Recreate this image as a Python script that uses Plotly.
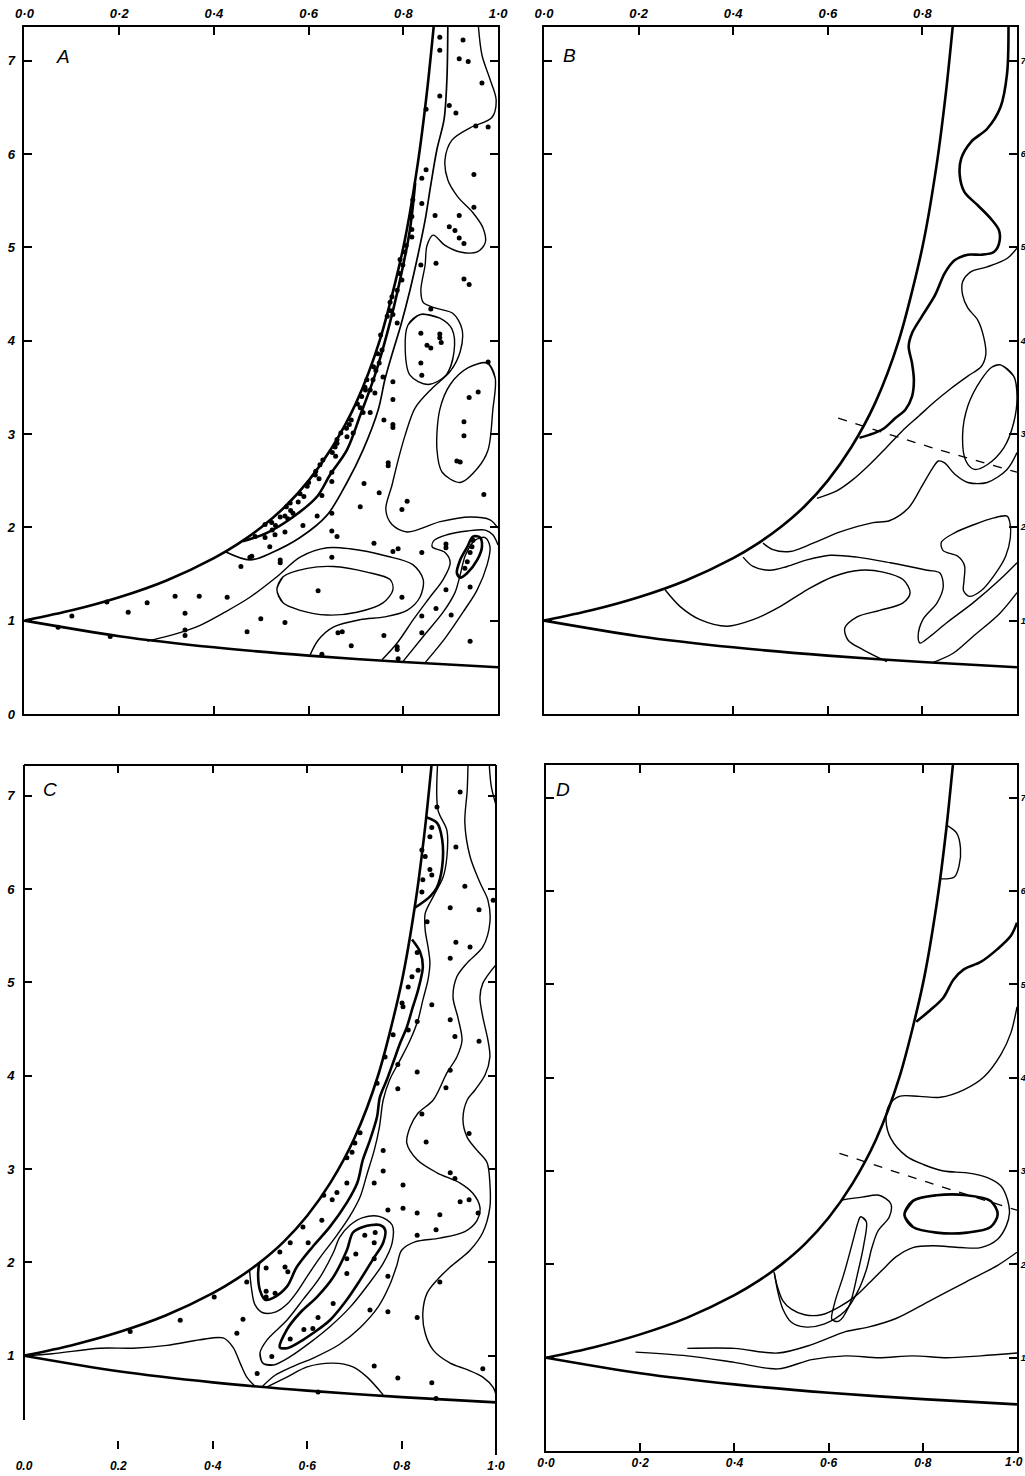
import plotly.graph_objects as go

# ---------------- shared region boundaries ----------------
upper_x = [0.0, 0.1, 0.2, 0.3, 0.4, 0.45, 0.5, 0.55, 0.6, 0.65, 0.7, 0.75, 0.8, 0.83, 0.85, 0.865]
upper_y = [1.0, 1.11, 1.25, 1.43, 1.67, 1.82, 2.0, 2.22, 2.5, 2.86, 3.33, 4.0, 5.0, 5.88, 6.67, 7.41]
lower_x = [0.0, 0.2, 0.4, 0.6, 0.8, 1.0]
lower_y = [1.0, 0.833, 0.714, 0.625, 0.556, 0.5]

# ---------------- axis labels ----------------
x_tick_vals = [0.0, 0.2, 0.4, 0.6, 0.8, 1.0]
x_top_labels = ["0·0", "0·2", "0·4", "0·6", "0·8", "1·0"]
x_c_labels = ["0.0", "0.2", "0·4", "0·6", "0·8", "1·0"]
y_tick_vals = [0, 1, 2, 3, 4, 5, 6, 7]
y_labels = ["0", "1", "2", "3", "4", "5", "6", "7"]
panel_names = ["A", "B", "C", "D"]

# ---------------- panel A ----------------
a_band_inner = [(0.825, 5.69), (0.814, 5.19), (0.793, 4.65), (0.768, 4.12), (0.740, 3.63),
                (0.709, 3.20), (0.681, 2.83), (0.645, 2.56), (0.618, 2.33), (0.567, 2.11),
                (0.512, 1.94), (0.461, 1.85)]
a_band_outer = [(0.894, 7.40), (0.892, 6.80), (0.886, 6.37), (0.871, 6.05), (0.858, 5.67),
                (0.846, 5.29), (0.831, 4.92), (0.814, 4.54), (0.795, 4.17), (0.776, 3.85),
                (0.761, 3.58), (0.747, 3.26), (0.715, 2.83), (0.681, 2.48), (0.639, 2.13),
                (0.582, 1.89), (0.523, 1.73), (0.476, 1.65), (0.423, 1.74)]
a_wave = [(0.958, 7.40), (0.966, 7.06), (0.983, 6.80), (0.996, 6.58), (0.987, 6.39),
          (0.941, 6.28), (0.903, 6.15), (0.888, 5.94), (0.894, 5.72), (0.915, 5.54),
          (0.947, 5.37), (0.968, 5.21), (0.973, 5.05), (0.956, 4.95), (0.920, 4.95),
          (0.888, 5.02), (0.863, 5.13), (0.850, 5.02), (0.846, 4.81), (0.837, 4.54),
          (0.842, 4.41), (0.867, 4.35), (0.905, 4.29), (0.924, 4.12), (0.920, 3.88),
          (0.899, 3.67), (0.861, 3.49), (0.825, 3.28), (0.804, 2.99), (0.789, 2.72),
          (0.776, 2.45), (0.763, 2.19), (0.776, 2.03), (0.808, 1.95), (0.878, 2.06),
          (0.941, 2.11), (0.983, 2.08), (1.0, 1.99)]
a_oval_left = [(0.836, 4.28), (0.877, 4.24), (0.903, 4.12), (0.907, 3.88), (0.890, 3.63),
               (0.852, 3.53), (0.814, 3.63), (0.804, 3.90), (0.810, 4.17)]
a_oval_right = [(0.977, 3.76), (0.994, 3.60), (0.989, 3.26), (0.979, 2.83), (0.958, 2.64),
                (0.920, 2.48), (0.882, 2.59), (0.871, 2.83), (0.877, 3.26), (0.899, 3.53),
                (0.937, 3.71)]
a_mid = [(0.259, 0.78), (0.314, 0.85), (0.371, 0.95), (0.423, 1.09), (0.476, 1.25),
         (0.533, 1.47), (0.582, 1.68), (0.639, 1.78), (0.687, 1.77), (0.766, 1.69),
         (0.820, 1.60), (0.842, 1.44), (0.835, 1.25), (0.808, 1.11), (0.761, 1.04),
         (0.709, 1.01), (0.652, 0.93), (0.620, 0.79), (0.603, 0.63)]
a_centre = [(0.533, 1.33), (0.546, 1.47), (0.597, 1.56), (0.652, 1.58), (0.723, 1.52),
            (0.772, 1.44), (0.778, 1.33), (0.757, 1.19), (0.702, 1.09), (0.639, 1.06),
            (0.582, 1.11), (0.546, 1.19)]
a_hook = [(0.755, 0.58), (0.787, 0.76), (0.821, 1.01), (0.856, 1.25), (0.884, 1.44),
          (0.899, 1.62), (0.888, 1.73), (0.861, 1.79), (0.865, 1.86), (0.892, 1.92),
          (0.935, 1.96), (0.973, 1.97), (0.989, 1.92), (1.0, 1.81)]
a_loop = [(0.799, 0.56), (0.842, 0.83), (0.884, 1.09), (0.909, 1.30), (0.920, 1.49),
          (0.931, 1.70), (0.951, 1.86), (0.973, 1.89), (0.983, 1.79), (0.977, 1.60),
          (0.956, 1.33), (0.926, 1.09), (0.888, 0.81), (0.846, 0.55)]
a_peak = [(0.913, 1.51), (0.920, 1.65), (0.935, 1.79), (0.947, 1.90), (0.962, 1.89),
          (0.966, 1.79), (0.956, 1.65), (0.935, 1.51), (0.920, 1.46)]
a_dots = [
    (0.071, 0.93), (0.100, 1.05), (0.174, 1.20), (0.219, 1.09), (0.259, 1.19), (0.318, 1.26),
    (0.369, 1.26), (0.428, 1.25), (0.339, 1.08), (0.339, 0.90), (0.339, 0.84), (0.181, 0.83),
    (0.470, 0.88), (0.499, 1.02), (0.550, 0.98), (0.620, 1.32), (0.662, 0.87), (0.671, 0.88),
    (0.690, 0.73), (0.628, 0.64), (0.759, 0.84), (0.787, 0.72), (0.787, 0.69), (0.789, 0.59),
    (0.797, 1.25), (0.839, 1.05), (0.839, 0.87), (0.869, 1.13), (0.890, 1.33), (0.901, 1.06),
    (0.941, 1.36), (0.941, 0.78),
    (0.768, 2.69), (0.768, 2.66), (0.717, 2.47), (0.749, 2.37), (0.709, 2.22), (0.649, 2.49),
    (0.628, 2.34), (0.649, 2.15), (0.618, 2.12), (0.588, 2.02), (0.649, 1.96), (0.660, 1.90),
    (0.738, 1.83), (0.778, 1.74), (0.789, 1.77), (0.839, 1.73), (0.808, 2.28), (0.797, 2.19),
    (0.913, 2.71), (0.920, 2.70), (0.970, 2.35), (0.890, 1.82), (0.890, 1.78), (0.947, 1.86),
    (0.945, 1.79), (0.941, 1.73), (0.935, 1.63), (0.930, 1.56), (0.649, 1.68), (0.540, 1.65),
    (0.540, 1.62), (0.480, 1.69), (0.457, 1.58),
    (0.630, 2.72), (0.624, 2.67), (0.600, 2.48), (0.597, 2.44), (0.561, 2.26), (0.578, 2.27),
    (0.540, 2.11), (0.550, 2.12), (0.556, 2.09), (0.508, 2.03), (0.523, 1.97), (0.487, 1.90),
    (0.529, 1.92), (0.508, 1.89), (0.550, 1.95), (0.518, 1.79), (0.476, 1.68), (0.649, 2.59),
    (0.614, 2.56), (0.567, 2.15),
    (0.522, 2.05), (0.530, 2.02), (0.553, 2.22), (0.562, 2.18), (0.582, 2.36), (0.590, 2.33),
    (0.615, 2.60), (0.622, 2.52), (0.650, 2.80), (0.657, 2.76), (0.680, 3.06), (0.686, 3.10),
    (0.703, 3.32), (0.709, 3.28), (0.737, 3.72), (0.742, 3.68), (0.746, 3.86), (0.773, 4.32),
    (0.778, 4.28), (0.792, 4.72), (0.803, 4.95), (0.806, 5.02),
    (0.848, 5.83), (0.839, 5.74), (0.839, 5.47), (0.867, 5.34), (0.918, 5.34), (0.949, 5.78),
    (0.949, 5.43), (0.897, 5.22), (0.909, 5.18), (0.918, 5.10), (0.928, 5.04), (0.869, 4.83),
    (0.837, 4.81), (0.928, 4.66), (0.939, 4.60), (0.858, 4.34), (0.837, 4.08), (0.877, 4.07),
    (0.877, 4.03), (0.880, 3.98), (0.850, 3.95), (0.858, 3.92), (0.837, 3.76), (0.839, 3.63),
    (0.979, 3.77), (0.958, 3.45), (0.939, 3.39), (0.928, 3.13), (0.928, 2.98), (0.778, 3.56),
    (0.778, 3.37), (0.759, 3.15), (0.778, 3.10), (0.778, 3.07),
    (0.820, 5.51), (0.818, 5.33), (0.818, 5.19), (0.818, 5.11), (0.793, 4.87), (0.799, 4.81),
    (0.797, 4.65), (0.787, 4.54), (0.776, 4.47), (0.772, 4.41), (0.766, 4.26), (0.787, 4.19),
    (0.752, 4.06), (0.749, 3.76), (0.757, 3.61), (0.736, 3.58), (0.723, 3.58), (0.719, 3.50),
    (0.730, 3.47), (0.712, 3.40), (0.740, 3.44), (0.720, 3.47), (0.715, 3.23), (0.730, 3.23),
    (0.690, 3.15), (0.694, 3.01), (0.681, 2.97), (0.668, 3.01), (0.660, 2.94), (0.660, 2.90),
    (0.656, 2.86), (0.755, 3.90),
    (0.877, 7.25), (0.877, 7.11), (0.926, 7.22), (0.918, 7.02), (0.937, 6.99), (0.966, 6.76),
    (0.877, 6.62), (0.897, 6.52), (0.848, 6.48), (0.911, 6.44), (0.953, 6.30), (0.979, 6.29),
]

# ---------------- panel B ----------------
b_thick = [(0.982, 7.40), (0.979, 6.86), (0.965, 6.50), (0.937, 6.27), (0.903, 6.13),
           (0.882, 5.95), (0.879, 5.77), (0.889, 5.59), (0.917, 5.45), (0.944, 5.31),
           (0.962, 5.18), (0.962, 5.04), (0.951, 4.95), (0.924, 4.92), (0.896, 4.92),
           (0.868, 4.86), (0.847, 4.72), (0.827, 4.49), (0.799, 4.26), (0.778, 4.08),
           (0.771, 3.94), (0.778, 3.76), (0.782, 3.58), (0.778, 3.40), (0.764, 3.26),
           (0.743, 3.17), (0.716, 3.05), (0.688, 2.99), (0.667, 2.96)]
b_upper = [(1.0, 4.99), (0.979, 4.88), (0.937, 4.79), (0.903, 4.74), (0.885, 4.63),
           (0.885, 4.49), (0.896, 4.35), (0.917, 4.22), (0.930, 4.03), (0.934, 3.85),
           (0.924, 3.72), (0.896, 3.62), (0.861, 3.49), (0.827, 3.35), (0.792, 3.19),
           (0.757, 3.03), (0.723, 2.85), (0.688, 2.67), (0.653, 2.51), (0.619, 2.39),
           (0.577, 2.31)]
b_oval = [(0.965, 3.74), (0.993, 3.62), (1.0, 3.40), (0.993, 3.12), (0.972, 2.85),
          (0.937, 2.67), (0.910, 2.62), (0.892, 2.71), (0.885, 2.99), (0.896, 3.30),
          (0.924, 3.58), (0.948, 3.72)]
b_ridge = [(1.0, 2.80), (0.979, 2.62), (0.937, 2.48), (0.896, 2.48), (0.868, 2.57),
           (0.847, 2.69), (0.834, 2.71), (0.820, 2.62), (0.799, 2.44), (0.771, 2.21),
           (0.730, 2.07), (0.696, 2.05), (0.626, 1.95), (0.569, 1.83), (0.520, 1.74),
           (0.484, 1.76), (0.463, 1.83)]
b_blob = [(0.979, 2.12), (0.951, 2.10), (0.910, 2.03), (0.868, 1.94), (0.840, 1.84),
          (0.844, 1.75), (0.875, 1.69), (0.889, 1.59), (0.888, 1.43), (0.887, 1.32),
          (0.899, 1.26), (0.924, 1.32), (0.951, 1.48), (0.976, 1.69), (0.986, 1.89),
          (0.985, 2.05)]
b_valley = [(1.0, 1.62), (0.964, 1.44), (0.907, 1.19), (0.852, 0.98), (0.816, 0.83),
            (0.795, 0.76), (0.791, 0.83), (0.801, 1.01), (0.831, 1.19), (0.844, 1.36),
            (0.837, 1.51), (0.810, 1.54), (0.732, 1.62), (0.662, 1.68), (0.605, 1.70),
            (0.556, 1.65), (0.514, 1.58), (0.478, 1.54), (0.442, 1.58), (0.421, 1.68)]
b_low = [(0.256, 1.33), (0.288, 1.15), (0.330, 1.01), (0.387, 0.94), (0.442, 1.01),
         (0.499, 1.15), (0.556, 1.33), (0.611, 1.47), (0.668, 1.54), (0.717, 1.52),
         (0.759, 1.44), (0.774, 1.30), (0.759, 1.19), (0.710, 1.11), (0.662, 1.04),
         (0.636, 0.92), (0.643, 0.79), (0.674, 0.69), (0.725, 0.56)]
b_edge = [(1.0, 1.30), (0.964, 1.08), (0.907, 0.83), (0.865, 0.65), (0.822, 0.55)]
b_dash = [(0.622, 3.17), (0.816, 2.86), (1.0, 2.59)]

# ---------------- panel C ----------------
c_cap = [(0.852, 6.77), (0.875, 6.71), (0.886, 6.53), (0.886, 6.24), (0.875, 6.02),
         (0.860, 5.92), (0.828, 5.80)]
c_band = [(0.822, 5.46), (0.839, 5.33), (0.845, 5.17), (0.835, 4.92), (0.824, 4.74),
          (0.811, 4.52), (0.797, 4.35), (0.782, 4.14), (0.769, 3.96), (0.754, 3.77),
          (0.748, 3.56), (0.733, 3.31), (0.718, 3.10), (0.706, 2.85), (0.684, 2.64),
          (0.648, 2.38), (0.612, 2.17), (0.578, 1.95), (0.557, 1.74), (0.528, 1.62),
          (0.511, 1.60), (0.500, 1.70), (0.496, 1.86), (0.498, 1.99)]
c_inner = [(0.877, 7.40), (0.877, 6.85), (0.896, 6.63), (0.896, 6.35), (0.888, 6.13),
           (0.867, 5.92), (0.850, 5.74), (0.850, 5.56), (0.856, 5.38), (0.860, 5.21),
           (0.856, 5.03), (0.845, 4.81), (0.835, 4.60), (0.818, 4.38), (0.797, 4.17),
           (0.775, 3.96), (0.761, 3.74), (0.753, 3.45), (0.742, 3.20), (0.727, 2.95),
           (0.712, 2.70), (0.691, 2.50), (0.660, 2.27), (0.627, 2.05), (0.600, 1.85),
           (0.578, 1.68), (0.557, 1.55), (0.534, 1.47), (0.506, 1.46), (0.489, 1.55),
           (0.482, 1.72), (0.478, 1.91)]
c_ridge = [(0.542, 1.09), (0.557, 1.28), (0.585, 1.46), (0.621, 1.63), (0.655, 1.84),
           (0.684, 2.13), (0.697, 2.32), (0.718, 2.38), (0.754, 2.40), (0.765, 2.35),
           (0.761, 2.21), (0.739, 2.03), (0.712, 1.81), (0.684, 1.60), (0.648, 1.38),
           (0.612, 1.24), (0.585, 1.15), (0.557, 1.08)]
c_ring = [(0.506, 0.92), (0.500, 1.03), (0.515, 1.17), (0.557, 1.38), (0.591, 1.60),
          (0.627, 1.84), (0.655, 2.10), (0.669, 2.27), (0.691, 2.40), (0.718, 2.48),
          (0.754, 2.49), (0.780, 2.40), (0.780, 2.21), (0.761, 1.99), (0.729, 1.76),
          (0.691, 1.52), (0.648, 1.31), (0.606, 1.14), (0.564, 0.99), (0.528, 0.90)]
c_wave = [(0.941, 7.40), (0.939, 7.06), (0.934, 6.71), (0.945, 6.35), (0.966, 6.07),
          (0.983, 5.88), (0.987, 5.64), (0.972, 5.38), (0.939, 5.21), (0.917, 5.06),
          (0.909, 4.84), (0.919, 4.63), (0.928, 4.38), (0.917, 4.20), (0.896, 4.03),
          (0.867, 3.74), (0.835, 3.60), (0.818, 3.45), (0.811, 3.28), (0.833, 3.10),
          (0.875, 2.96), (0.924, 2.85), (0.951, 2.74), (0.966, 2.59), (0.960, 2.45),
          (0.934, 2.33), (0.881, 2.26), (0.828, 2.22), (0.800, 2.13), (0.790, 1.97),
          (0.775, 1.76), (0.750, 1.52), (0.712, 1.30), (0.668, 1.12), (0.615, 0.98),
          (0.568, 0.88), (0.532, 0.79), (0.505, 0.67)]
c_left = [(0.49, 0.67), (0.472, 0.77), (0.458, 0.92), (0.443, 1.09), (0.422, 1.19),
          (0.373, 1.17), (0.303, 1.11), (0.231, 1.08), (0.161, 1.08), (0.06, 1.02), (0.0, 1.0)]
c_dome = [(0.513, 0.66), (0.557, 0.77), (0.600, 0.88), (0.655, 0.92), (0.697, 0.88),
          (0.727, 0.77), (0.761, 0.58)]
c_outer_top = [(0.985, 7.40), (0.990, 7.10), (1.0, 6.90)]
c_outer = [(1.0, 5.19), (0.972, 4.99), (0.966, 4.84), (0.972, 4.63), (0.983, 4.38),
           (0.987, 4.20), (0.977, 4.01), (0.956, 3.85), (0.939, 3.74), (0.930, 3.53),
           (0.939, 3.34), (0.960, 3.20), (0.981, 3.07), (0.987, 2.85), (0.987, 2.59),
           (0.972, 2.32), (0.945, 2.13), (0.903, 1.95), (0.875, 1.81), (0.854, 1.67),
           (0.845, 1.46), (0.850, 1.24), (0.867, 1.06), (0.903, 0.92), (0.939, 0.85),
           (0.972, 0.77), (0.994, 0.66), (1.0, 0.58)]
c_dots = [
    (0.924, 7.04), (0.875, 6.88), (0.864, 6.66), (0.860, 6.56), (0.843, 6.42), (0.850, 6.35),
    (0.915, 6.45), (0.864, 6.15), (0.860, 6.21), (0.845, 6.10), (0.843, 5.97), (0.934, 6.03),
    (0.994, 5.88), (0.903, 5.80), (0.964, 5.78), (0.854, 5.65), (0.915, 5.43), (0.945, 5.38),
    (0.903, 5.26), (0.833, 5.32), (0.835, 5.13), (0.822, 5.06), (0.814, 4.95), (0.864, 4.76),
    (0.801, 4.78), (0.803, 4.74), (0.903, 4.60), (0.833, 4.58), (0.814, 4.49), (0.913, 4.42),
    (0.964, 4.37), (0.782, 4.44), (0.792, 4.12), (0.765, 4.20), (0.748, 3.92), (0.833, 4.04),
    (0.903, 4.06), (0.792, 3.86), (0.894, 3.87), (0.843, 3.59), (0.943, 3.38), (0.852, 3.29),
    (0.761, 3.20), (0.712, 3.39), (0.701, 3.28), (0.695, 3.18), (0.684, 3.12), (0.761, 2.98),
    (0.742, 2.85), (0.803, 2.83), (0.903, 2.96), (0.913, 2.90), (0.684, 2.85), (0.663, 2.75),
    (0.635, 2.72), (0.653, 2.67), (0.924, 2.65), (0.943, 2.67), (0.962, 2.53), (0.881, 2.51),
    (0.833, 2.53), (0.803, 2.58), (0.771, 2.56), (0.833, 2.29), (0.873, 2.35), (0.631, 2.45),
    (0.591, 2.38), (0.602, 2.21), (0.564, 2.21), (0.542, 2.11), (0.559, 1.90), (0.553, 1.95),
    (0.513, 1.94), (0.472, 1.79), (0.513, 1.69), (0.513, 1.63), (0.532, 1.67), (0.722, 2.29),
    (0.744, 2.32), (0.742, 2.21), (0.703, 2.09), (0.684, 2.04), (0.742, 2.04), (0.684, 1.88),
    (0.771, 1.85), (0.655, 1.56), (0.623, 1.41), (0.593, 1.28), (0.612, 1.29), (0.564, 1.18),
    (0.733, 1.49), (0.771, 1.47), (0.833, 1.41), (0.881, 1.79), (0.525, 0.99), (0.494, 0.81),
    (0.451, 1.24), (0.464, 1.39), (0.403, 1.63), (0.331, 1.38), (0.225, 1.26), (0.742, 0.89),
    (0.792, 0.76), (0.864, 0.71), (0.972, 0.86), (0.623, 0.61), (0.873, 0.54),
]

# ---------------- panel D ----------------
d_bump = [(0.852, 6.70), (0.872, 6.62), (0.880, 6.46), (0.877, 6.27), (0.867, 6.15), (0.838, 6.13)]
d_thick = [(0.786, 4.60), (0.815, 4.72), (0.844, 4.86), (0.865, 5.05), (0.887, 5.16),
           (0.923, 5.24), (0.959, 5.38), (0.987, 5.52), (1.0, 5.66)]
d_long = [(1.0, 4.76), (0.987, 4.48), (0.966, 4.25), (0.930, 4.01), (0.887, 3.87),
          (0.837, 3.79), (0.793, 3.80), (0.750, 3.80), (0.728, 3.70), (0.722, 3.54),
          (0.732, 3.35), (0.765, 3.16), (0.801, 3.07), (0.844, 3.00), (0.894, 2.98),
          (0.937, 2.93), (0.966, 2.84), (0.980, 2.69), (0.984, 2.55), (0.977, 2.41),
          (0.959, 2.27), (0.923, 2.18), (0.880, 2.18), (0.822, 2.20), (0.779, 2.18),
          (0.743, 2.08), (0.714, 1.94), (0.686, 1.80), (0.657, 1.66), (0.621, 1.54),
          (0.585, 1.46), (0.549, 1.46), (0.521, 1.52), (0.503, 1.61), (0.492, 1.75),
          (0.484, 1.92)]
d_oval = [(0.761, 2.53), (0.779, 2.68), (0.829, 2.74), (0.894, 2.74), (0.944, 2.68),
          (0.959, 2.54), (0.944, 2.40), (0.894, 2.34), (0.829, 2.34), (0.779, 2.40)]
d_loop = [(0.628, 2.69), (0.671, 2.72), (0.707, 2.74), (0.732, 2.65), (0.729, 2.51),
          (0.705, 2.36), (0.692, 2.18), (0.680, 1.94), (0.662, 1.71), (0.635, 1.50),
          (0.590, 1.36), (0.549, 1.33), (0.521, 1.38), (0.503, 1.52), (0.492, 1.71),
          (0.485, 1.90)]
d_finger = [(0.668, 2.51), (0.680, 2.46), (0.675, 2.22), (0.661, 1.89), (0.644, 1.56),
            (0.621, 1.39), (0.607, 1.41), (0.613, 1.59), (0.632, 1.89), (0.650, 2.22),
            (0.663, 2.46)]
d_slope = [(0.30, 1.10), (0.40, 1.10), (0.492, 1.05), (0.564, 1.14), (0.636, 1.28),
           (0.686, 1.33), (0.743, 1.42), (0.815, 1.61), (0.887, 1.80), (0.959, 1.99), (1.0, 2.13)]
d_flat = [(0.19, 1.06), (0.30, 1.02), (0.40, 0.95), (0.492, 0.88), (0.564, 0.98),
          (0.636, 1.02), (0.707, 1.00), (0.779, 1.02), (0.851, 1.00), (0.923, 1.02), (1.0, 1.05)]
d_dash = [(0.623, 3.19), (0.81, 2.88), (1.0, 2.58)]

# ---------------- layout geometry ----------------
domains = {
    "A": dict(x=[0.0239, 0.4859], y=[0.5163, 0.9817], ymax=7.36),
    "B": dict(x=[0.5307, 0.9922], y=[0.5163, 0.9817], ymax=7.36),
    "C": dict(x=[0.0234, 0.4839], y=[0.0183, 0.4817], ymax=7.33),
    "D": dict(x=[0.5327, 0.9922], y=[0.0169, 0.4817], ymax=7.35),
}
axis_ids = {"A": ("x", "y"), "B": ("x2", "y2"), "C": ("x3", "y3"), "D": ("x4", "y4")}

THIN = 1.4
THICK = 2.6
BOUND = 2.6

fig = go.Figure()


def loop(pts):
    return [pts[-1]] + list(pts) + [pts[0], pts[1]]


def curve(panel, pts, width=THIN, closed=False, dash="solid"):
    if closed:
        pts = loop(pts)
    xa, ya = axis_ids[panel]
    fig.add_trace(go.Scatter(
        x=[p[0] for p in pts], y=[p[1] for p in pts], mode="lines",
        line=dict(color="black", width=width, shape="spline", smoothing=0.9, dash=dash),
        xaxis=xa, yaxis=ya, hoverinfo="skip", showlegend=False))


def dots(panel, pts):
    xa, ya = axis_ids[panel]
    fig.add_trace(go.Scatter(
        x=[p[0] for p in pts], y=[p[1] for p in pts], mode="markers",
        marker=dict(color="black", size=5), xaxis=xa, yaxis=ya,
        hoverinfo="skip", showlegend=False))


for p in panel_names:
    xa, ya = axis_ids[p]
    fig.add_trace(go.Scatter(x=upper_x, y=upper_y, mode="lines",
                             line=dict(color="black", width=BOUND, shape="spline", smoothing=0.8),
                             xaxis=xa, yaxis=ya, hoverinfo="skip", showlegend=False))
    fig.add_trace(go.Scatter(x=lower_x, y=lower_y, mode="lines",
                             line=dict(color="black", width=BOUND, shape="spline", smoothing=0.8),
                             xaxis=xa, yaxis=ya, hoverinfo="skip", showlegend=False))

# panel A
curve("A", a_band_inner, THICK)
curve("A", a_band_outer, 1.7)
curve("A", a_wave)
curve("A", a_oval_left, closed=True)
curve("A", a_oval_right, closed=True)
curve("A", a_mid)
curve("A", a_centre, closed=True)
curve("A", a_hook)
curve("A", a_loop)
curve("A", a_peak, THICK, closed=True)
dots("A", a_dots)

# panel B
curve("B", b_thick, THICK)
curve("B", b_upper)
curve("B", b_oval, closed=True)
curve("B", b_ridge)
curve("B", b_blob, closed=True)
curve("B", b_valley)
curve("B", b_low)
curve("B", b_edge)
curve("B", b_dash, 1.3, dash="dash")

# panel C
curve("C", c_cap, THICK)
curve("C", c_band, THICK)
curve("C", c_inner)
curve("C", c_ridge, THICK, closed=True)
curve("C", c_ring, closed=True)
curve("C", c_wave)
curve("C", c_left)
curve("C", c_dome)
curve("C", c_outer_top)
curve("C", c_outer)
dots("C", c_dots)

# panel D
curve("D", d_bump)
curve("D", d_thick, THICK)
curve("D", d_long)
curve("D", d_oval, THICK, closed=True)
curve("D", d_loop)
curve("D", d_finger, closed=True)
curve("D", d_slope)
curve("D", d_flat)
curve("D", d_dash, 1.3, dash="dash")

tick_font = dict(family="Liberation Sans", size=13, color="black", style="italic", weight="bold")
low_font = dict(tick_font, size=12)
edge_font = dict(tick_font, size=9)
base_axis = dict(showgrid=False, zeroline=False, ticks="inside", ticklen=8, tickwidth=2,
                 tickcolor="black", linecolor="black", linewidth=2, mirror="ticks",
                 showline=True, tickfont=tick_font, automargin=False)

layout_axes = {}
for i, p in enumerate(panel_names):
    sfx = "" if i == 0 else str(i + 1)
    d = domains[p]
    xa = dict(base_axis, domain=d["x"], range=[0, 1], anchor="y" + sfx,
              tickvals=x_tick_vals, ticktext=x_top_labels, ticklabelstandoff=2)
    ya = dict(base_axis, domain=d["y"], range=[0, d["ymax"]], anchor="x" + sfx,
              tickvals=y_tick_vals, ticktext=y_labels, ticklabelstandoff=5)
    if p in ("A", "B"):
        xa["side"] = "top"
    if p == "C":
        # the bottom and left edges of this frame are drawn separately below
        xa["ticktext"] = x_c_labels
        xa["linecolor"] = "rgba(0,0,0,0)"
        xa["ticklabelstandoff"] = 5
        xa["tickfont"] = low_font
        ya["linecolor"] = "rgba(0,0,0,0)"
        ya["tickvals"] = y_tick_vals[1:]
        ya["ticktext"] = y_labels[1:]
    if p == "D":
        xa["ticklabelstandoff"] = 0
        xa["tickfont"] = low_font
        xa["ticktext"] = x_top_labels[:-1] + [""]
    if p in ("B", "D"):
        ya["side"] = "right"
        ya["tickvals"] = y_tick_vals[1:]
        ya["ticktext"] = y_labels[1:]
        ya["ticklabelstandoff"] = 0
        ya["tickfont"] = edge_font
    layout_axes["xaxis" + sfx] = xa
    layout_axes["yaxis" + sfx] = ya

fig.update_layout(**layout_axes)

# frame of panel C (open at the bottom)
cx0, cx1 = domains["C"]["x"]
cy0, cy1 = domains["C"]["y"]
frame = dict(type="line", xref="paper", yref="paper", line=dict(color="black", width=2))
fig.add_shape(frame, x0=cx0, x1=cx1, y0=cy1, y1=cy1)
fig.add_shape(frame, x0=cx0, x1=cx0, y0=0.038, y1=cy1)
fig.add_shape(frame, x0=cx1, x1=cx1, y0=0.0142, y1=cy1)

# last tick label of panel D, kept inside the page edge
fig.add_annotation(x=1.0, y=0.0095, xref="paper", yref="paper", text=x_top_labels[-1],
                   showarrow=False, xanchor="right", yanchor="middle", font=low_font)

letter_pos = {"A": (0.0615, 0.9614), "B": (0.556, 0.9627), "C": (0.0488, 0.4654), "D": (0.549, 0.4654)}
for p in panel_names:
    fig.add_annotation(x=letter_pos[p][0], y=letter_pos[p][1], xref="paper", yref="paper",
                       text=p, showarrow=False, xanchor="center", yanchor="middle",
                       font=dict(family="Liberation Sans", size=19, style="italic", color="black"))

fig.update_layout(width=1025, height=1476, margin=dict(l=0, r=0, t=0, b=0),
                  paper_bgcolor="white", plot_bgcolor="white", showlegend=False)

fig.write_html("out.html")
